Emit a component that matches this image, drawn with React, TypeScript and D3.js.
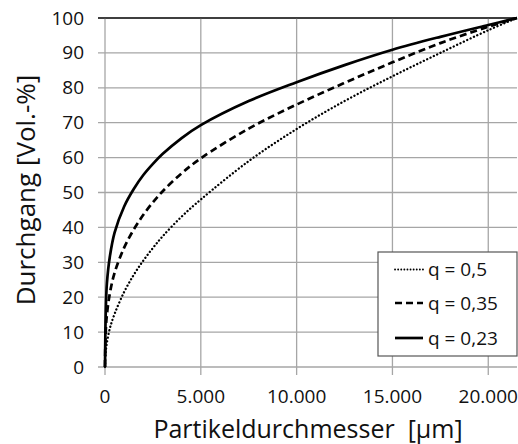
import React from "react";
import * as d3 from "d3";

const xTicks = [0, 5000, 10000, 15000, 20000];
const yTicks = [0, 10, 20, 30, 40, 50, 60, 70, 80, 90, 100];
const xTickLabels = ["0", "5.000", "10.000", "15.000", "20.000"];

const seriesNames = ["q = 0,5", "q = 0,35", "q = 0,23"];

const xValues = [0, 20, 50, 100, 250, 500, 1000, 1500, 2000, 2500, 3000, 4000, 5000, 7500, 10000, 12500, 15000, 17500, 20000, 21500];
const q05 = [0, 3, 5, 7, 11, 15.2, 21.5, 26.4, 30.5, 34.1, 37.4, 43.1, 48, 59, 68.2, 76.2, 83.3, 90, 96.5, 100];
const q035 = [0, 7, 11.5, 15, 21, 27, 34.2, 39.4, 43.6, 47.2, 50.3, 55.5, 59.8, 68.3, 75.2, 81.4, 87.3, 92.8, 97.5, 100];
const q023 = [0, 10, 18, 24, 31.5, 38.5, 46, 51, 55, 58.2, 61, 65.6, 69.3, 76.2, 81.6, 86.5, 90.9, 94.6, 98, 100];

const W = 518, H = 444;
const left = 105, right = 517, top = 18, bottom = 367;
const FONT = "'Open Sans', sans-serif";

export default function App() {
  const x = d3.scaleLinear().domain([0, 21500]).range([left, right]);
  const y = d3.scaleLinear().domain([0, 100]).range([bottom, top]);
  const line = d3.line<number>().x((_, i) => x(xValues[i])).y((v) => y(v)).curve(d3.curveCatmullRom.alpha(0.5));

  const styles = [
    { data: q05, dash: "0.1 3.6", width: 2.3, cap: "round" as const },
    { data: q035, dash: "7 4", width: 2.7, cap: "butt" as const },
    { data: q023, dash: undefined, width: 2.7, cap: "butt" as const },
  ];

  const grid = "#a6a6a6";
  const legX = 378, legY = 252, legW = 139, legH = 104;
  const rowY = [269.5, 303, 338];

  return (
    <svg width={W} height={H} style={{ position: "absolute", left: 0, top: 0, background: "#fff" }}>
      <rect x={0} y={0} width={W} height={H} fill="#fff" />
      {yTicks.map((t) => (
        <line key={"h" + t} x1={98} x2={right} y1={y(t)} y2={y(t)} stroke={t === 100 ? "#333" : grid} strokeWidth={1.3} />
      ))}
      {xTicks.map((t) => (
        <line key={"v" + t} x1={x(t)} x2={x(t)} y1={top} y2={375} stroke={grid} strokeWidth={1.3} />
      ))}
      <line x1={98} x2={right} y1={top} y2={top} stroke="#333" strokeWidth={1.3} />
      {yTicks.map((t) => (
        <text key={"yl" + t} x={84} y={y(t) + 6.5} textAnchor="end" fontFamily={FONT} fontSize={19} fill="#111">
          {t}
        </text>
      ))}
      {xTicks.map((t, i) => (
        <text key={"xl" + t} x={x(t)} y={403} textAnchor="middle" fontFamily={FONT} fontSize={19} fill="#111">
          {xTickLabels[i]}
        </text>
      ))}
      {styles.map((s, i) => (
        <path key={"s" + i} d={line(s.data) || ""} fill="none" stroke="#000" strokeWidth={s.width}
          strokeDasharray={s.dash} strokeLinecap={s.cap} />
      ))}
      <rect x={legX} y={legY} width={legW} height={legH} fill="#fff" stroke="#555" strokeWidth={1.2} />
      {styles.map((s, i) => (
        <g key={"lg" + i}>
          <line x1={395} x2={423} y1={rowY[i]} y2={rowY[i]} stroke="#000" strokeWidth={i === 0 ? 1.8 : s.width}
            strokeDasharray={i === 0 ? "0.1 3" : s.dash} strokeLinecap={s.cap} />
          <text x={428} y={rowY[i] + 6.5} fontFamily={FONT} fontSize={19} fill="#111">{seriesNames[i]}</text>
        </g>
      ))}
      <text x={308} y={438} textAnchor="middle" fontFamily={FONT} fontSize={25} fill="#111">
        {"Partikeldurchmesser\u00A0 [µm]"}
      </text>
      <text transform={`translate(35,190) rotate(-90)`} textAnchor="middle" fontFamily={FONT} fontSize={26} fill="#111">
        Durchgang [Vol.-%]
      </text>
    </svg>
  );
}
